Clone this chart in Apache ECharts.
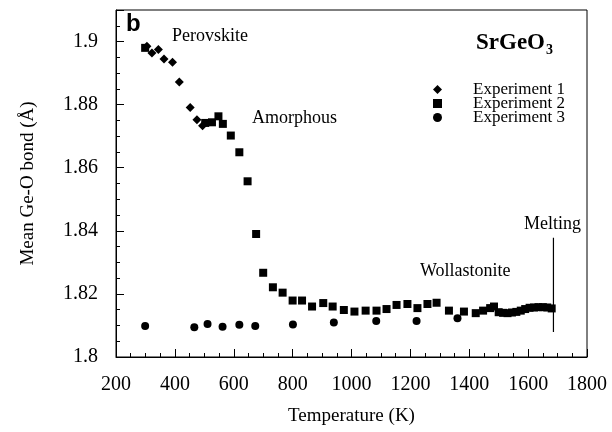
<!DOCTYPE html>
<html>
<head>
<meta charset="utf-8">
<script src="https://cdn.jsdelivr.net/npm/echarts@6/dist/echarts.min.js"></script>
<style>html,body{margin:0;padding:0;background:#fff}#c{width:612px;height:432px}</style>
</head>
<body>
<div id="c"></div>
<script>
// Experiment 1 (diamonds)
const exp1T = [305, 322, 344, 363, 392, 415, 452, 475, 494];
const exp1V = [1.8985, 1.8964, 1.8975, 1.8945, 1.8934, 1.8872, 1.8791, 1.8752, 1.8733];
// Experiment 2 (squares)
const exp2T = [299, 503, 526, 548, 563, 590, 619, 647, 676, 700, 733, 766, 800, 832, 866, 904, 936, 974, 1010, 1048, 1085, 1119, 1153, 1190, 1224, 1258, 1289, 1331, 1382, 1422, 1447, 1471, 1484, 1500, 1515, 1530, 1545, 1560, 1575, 1590, 1605, 1620, 1635, 1650, 1665, 1680];
const exp2V = [1.898, 1.8742, 1.8744, 1.8763, 1.8739, 1.8702, 1.8649, 1.8557, 1.8390, 1.8267, 1.8221, 1.8204, 1.8179, 1.8179, 1.8160, 1.8171, 1.8160, 1.8149, 1.8144, 1.8147, 1.8147, 1.8152, 1.8165, 1.8168, 1.8155, 1.8168, 1.8172, 1.8147, 1.8144, 1.8139, 1.8147, 1.8155, 1.8160, 1.8142, 1.8140, 1.8139, 1.8141, 1.8143, 1.8147, 1.8152, 1.8156, 1.8157, 1.8158, 1.8158, 1.8157, 1.8154];
// Experiment 3 (circles)
const exp3T = [299, 466, 511, 562, 619, 673, 801, 940, 1084, 1221, 1360];
const exp3V = [1.8098, 1.8094, 1.8105, 1.8096, 1.8102, 1.8098, 1.8103, 1.8109, 1.8114, 1.8114, 1.8123];
// Melting line
const meltT = [1686, 1686];
const meltV = [1.8079, 1.8378];
// Axis ticks
const xTicks = [200, 400, 600, 800, 1000, 1200, 1400, 1600, 1800];
const yTicks = [1.8, 1.82, 1.84, 1.86, 1.88, 1.9];
const seriesNames = ['Experiment 1', 'Experiment 2', 'Experiment 3'];

const zip = (a, b) => a.map((v, i) => [v, b[i]]);
const serif = '"Liberation Serif", "Times New Roman", serif';

const chart = echarts.init(document.getElementById('c'), null, {renderer: 'canvas'});
chart.setOption({
  animation: false,
  backgroundColor: '#fff',
  grid: {left: 116, right: 25, top: 10, bottom: 75, show: true, borderColor: '#000', borderWidth: 1, backgroundColor: 'transparent'},
  xAxis: {
    type: 'value', min: xTicks[0], max: xTicks[xTicks.length - 1], interval: 200,
    name: 'Temperature (K)', nameLocation: 'middle', nameGap: 50,
    nameTextStyle: {fontFamily: serif, fontSize: 19, color: '#000'},
    axisLine: {lineStyle: {color: '#000', width: 1}},
    axisTick: {inside: true, length: 8, lineStyle: {color: '#000'}},
    minorTick: {show: true, splitNumber: 4, length: 4, lineStyle: {color: '#000'}},
    splitLine: {show: false},
    axisLabel: {fontFamily: serif, fontSize: 20, color: '#000', margin: 18, formatter: v => String(v)}
  },
  yAxis: {
    type: 'value', min: yTicks[0], max: 1.91, interval: 0.02,
    name: 'Mean Ge-O bond (Å)', nameLocation: 'middle', nameGap: 78, nameRotate: 90,
    nameTextStyle: {fontFamily: serif, fontSize: 19, color: '#000'},
    axisLine: {lineStyle: {color: '#000', width: 1}},
    axisTick: {inside: true, length: 8, lineStyle: {color: '#000'}},
    minorTick: {show: true, splitNumber: 4, length: 4, lineStyle: {color: '#000'}},
    splitLine: {show: false},
    axisLabel: {fontFamily: serif, fontSize: 20, color: '#000', margin: 18, showMaxLabel: false,
      formatter: v => (v > 1.905 ? '' : String(parseFloat(v.toFixed(3))))}
  },
  legend: {
    orient: 'vertical', left: 428, top: 76, itemWidth: 9, itemHeight: 9, itemGap: -3,
    data: [{name: seriesNames[0], icon: 'diamond'}, {name: seriesNames[1], icon: 'rect'}, {name: seriesNames[2], icon: 'circle'}],
    itemStyle: {opacity: 1},
    textStyle: {fontFamily: serif, fontSize: 17, color: '#000', padding: [0, 0, 0, 26]}
  },
  graphic: [
    {type: 'text', left: 126, top: 12, style: {text: 'b', font: 'bold 24px "Liberation Sans", Arial, sans-serif', fill: '#000'}},
    {type: 'text', left: 172, top: 27, style: {text: 'Perovskite', font: '18px ' + serif, fill: '#000'}},
    {type: 'text', left: 252, top: 109, style: {text: 'Amorphous', font: '18px ' + serif, fill: '#000'}},
    {type: 'text', left: 420, top: 262, style: {text: 'Wollastonite', font: '18px ' + serif, fill: '#000'}},
    {type: 'text', left: 524, top: 215, style: {text: 'Melting', font: '18px ' + serif, fill: '#000'}},
    {type: 'text', left: 476, top: 32, style: {
      text: '{a|SrGeO}{s|3}',
      rich: {
        a: {fontFamily: serif, fontSize: 23, fontWeight: 'bold', color: '#000'},
        s: {fontFamily: serif, fontSize: 14, fontWeight: 'bold', color: '#000', padding: [14, 0, 0, 1]}
      }
    }}
  ],
  series: [
    {name: seriesNames[0], type: 'scatter', symbol: 'diamond', symbolSize: 9, itemStyle: {color: '#000', opacity: 1}, data: zip(exp1T, exp1V)},
    {name: seriesNames[1], type: 'scatter', symbol: 'rect', symbolSize: 8, itemStyle: {color: '#000', opacity: 1}, data: zip(exp2T, exp2V)},
    {name: seriesNames[2], type: 'scatter', symbol: 'circle', symbolSize: 8, itemStyle: {color: '#000', opacity: 1}, data: zip(exp3T, exp3V)},
    {name: 'melt', type: 'line', symbol: 'none', lineStyle: {color: '#000', width: 1.2}, data: zip(meltT, meltV), silent: true}
  ]
});
</script>
</body>
</html>
